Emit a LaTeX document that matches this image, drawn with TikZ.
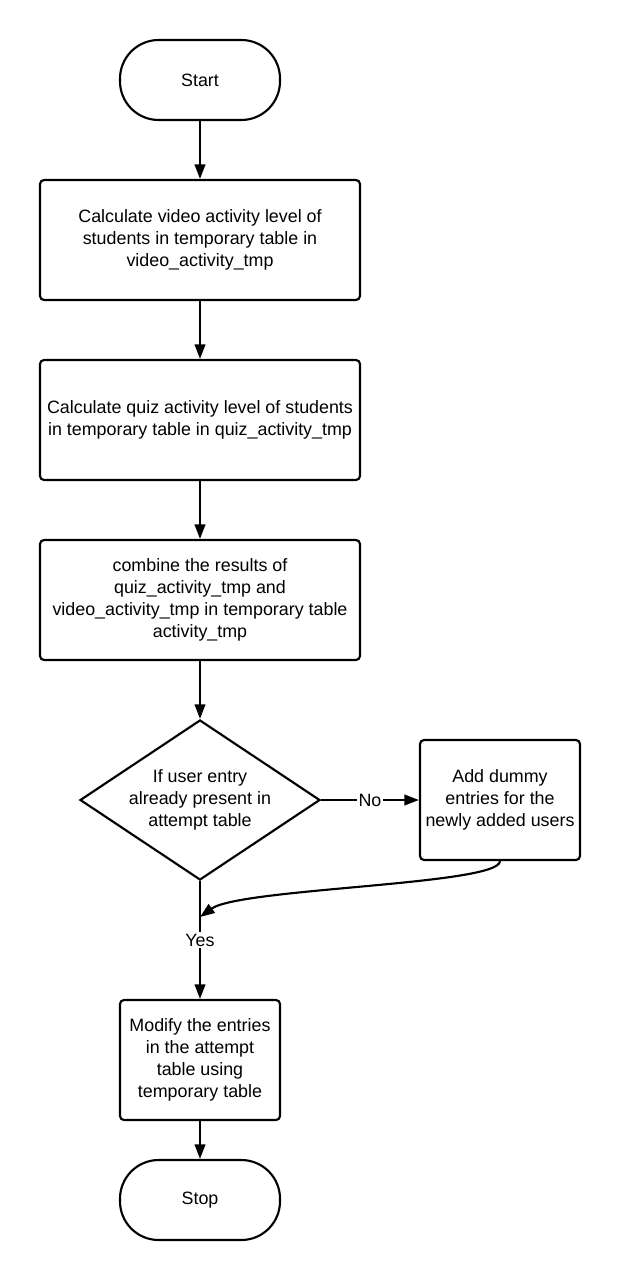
\documentclass[tikz,border=0pt]{standalone}
\usepackage{fontspec}
\setmainfont{Liberation Sans}
\usetikzlibrary{shapes.geometric,arrows.meta}
\begin{document}
\begin{tikzpicture}[x=0.75pt,y=-0.75pt,
  every node/.style={font=\fontsize{13.4}{16.5}\selectfont, align=center},
  base/.style={draw=black, line width=1.6pt, fill=white, inner sep=2pt},
  term/.style={base, rounded corners=29pt, minimum width=120pt, minimum height=60pt},
  bigbox/.style={base, rounded corners=3pt, minimum width=240pt, minimum height=90pt},
  smallbox/.style={base, rounded corners=3pt, minimum width=120pt, minimum height=90pt},
  decide/.style={base, diamond, aspect=1.5, inner sep=0pt, minimum width=180pt, minimum height=120pt},
  conn/.style={draw=black, line width=1.6pt, -{Triangle[length=11pt,width=8pt]}},
  lbl/.style={fill=white, inner sep=1pt}]
\useasboundingbox (0,0) rectangle (620,1280);
\node[term] (start) at (200,80) {Start};
\node[bigbox] (b1) at (200,240) {Calculate video activity level of\\students in temporary table in\\video\_activity\_tmp};
\node[bigbox] (b2) at (200,420) {Calculate quiz activity level of students\\in temporary table in quiz\_activity\_tmp};
\node[bigbox] (b3) at (200,600) {combine the results of\\quiz\_activity\_tmp and\\video\_activity\_tmp in temporary table\\activity\_tmp};
\node[decide] (d) at (200,800) {If user entry\\already present in\\attempt table};
\node[smallbox] (add) at (500,800) {Add dummy\\entries for the\\newly added users};
\node[smallbox] (mod) at (200,1060) {Modify the entries\\in the attempt\\table using\\temporary table};
\node[term] (stop) at (200,1200) {Stop};
\coordinate (join) at (200,917);
\draw[conn] (start) -- (b1);
\draw[conn] (b1) -- (b2);
\draw[conn] (b2) -- (b3);
\draw[conn] (b3) -- (d);
\draw[conn] (d.east) -- node[lbl] {No} (add.west);
\draw[conn] (d.south) -- node[lbl, pos=0.5] {Yes} (mod.north);
\draw[conn] (add.south) .. controls (500,885) and (240,888) .. (join);
\draw[conn] (mod) -- (stop);
\end{tikzpicture}
\end{document}
